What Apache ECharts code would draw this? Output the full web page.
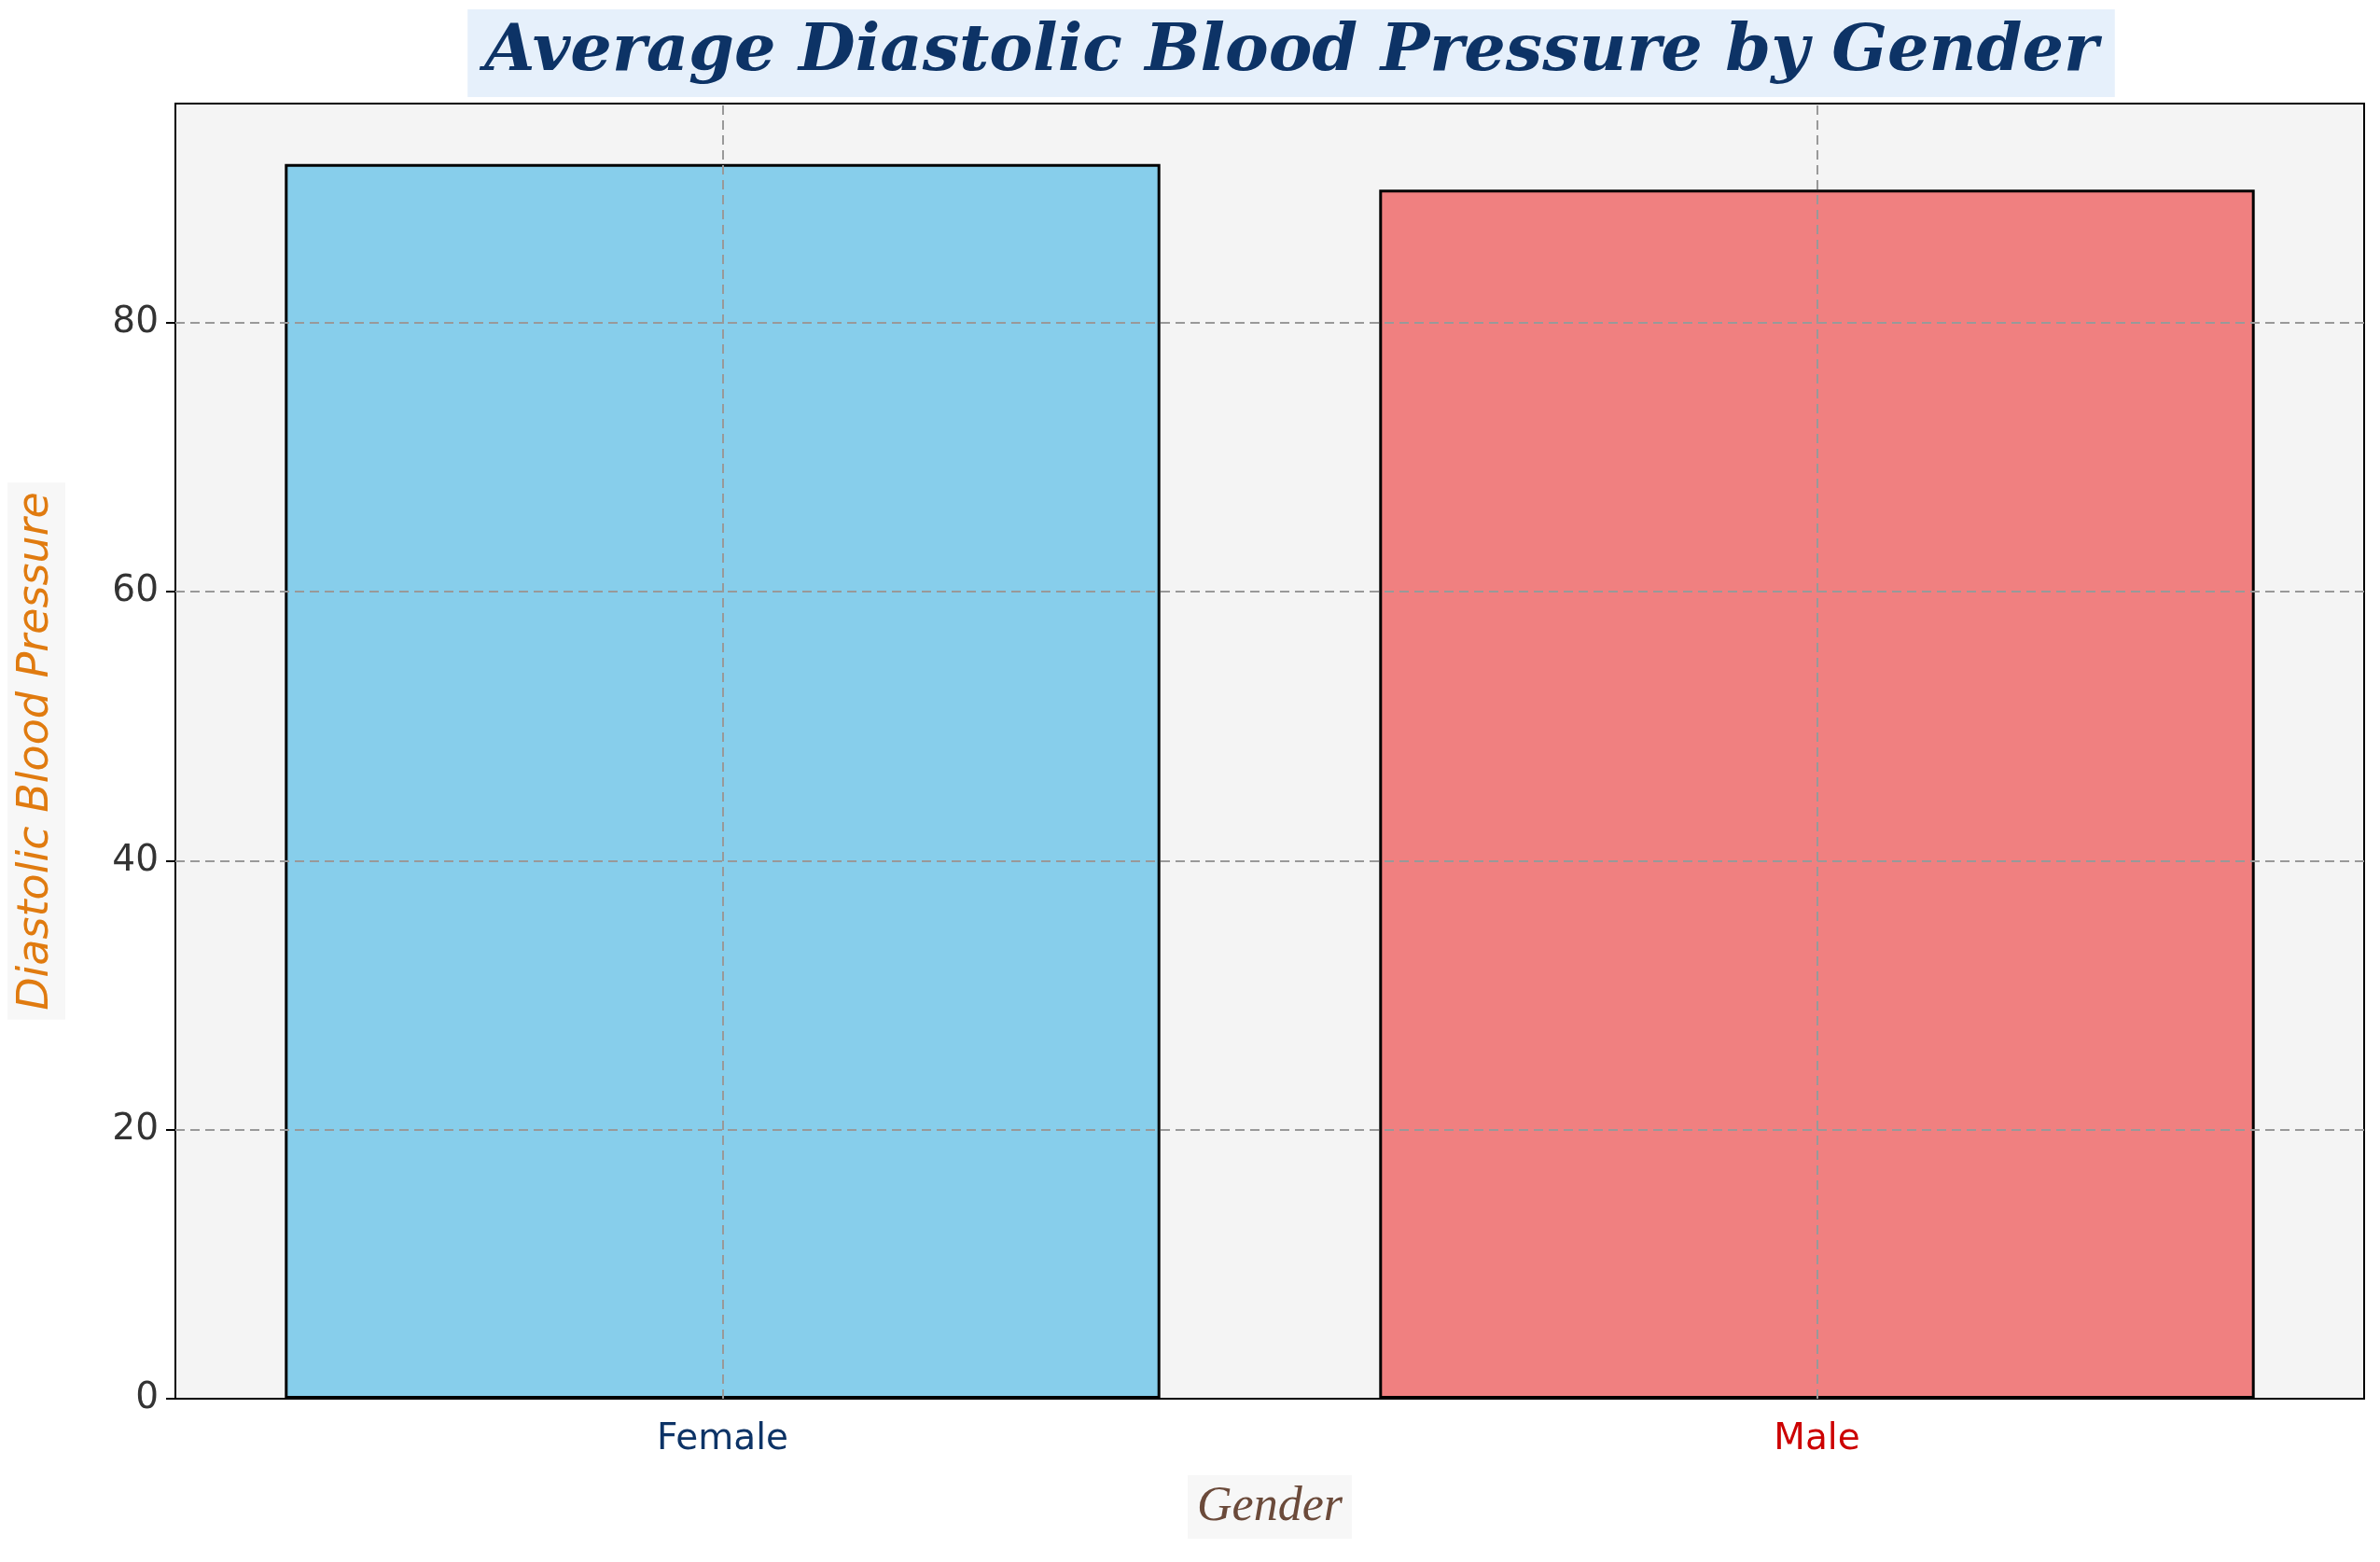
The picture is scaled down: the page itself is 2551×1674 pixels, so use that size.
<!DOCTYPE html>
<html>
<head>
<meta charset="utf-8">
<script src="https://cdn.jsdelivr.net/npm/echarts@6/dist/echarts.min.js"></script>
<style>html,body{margin:0;padding:0;background:#fff}#c{width:2551px;height:1674px}</style>
</head>
<body>
<div id="c"></div>
<script>
var genders = ['Female', 'Male'];
var diastolic = [91.8, 89.9];
var barColors = ['#87CEEB', '#F08080'];
var labelColors = ['#0d3366', '#cc0000'];
var yTicks = [20, 40, 60, 80];
var yTickLabels = [0, 20, 40, 60, 80];

var chart = echarts.init(document.getElementById('c'));
var dash = { color: '#999', type: [10, 6], width: 2 };
var gridLines = yTicks.map(function (v) { return { yAxis: v }; })
  .concat(genders.map(function (g) { return { xAxis: g }; }));

chart.setOption({
  backgroundColor: '#ffffff',
  title: {
    text: 'Average Diastolic Blood Pressure by Gender',
    left: 1366, textAlign: 'center', top: 10,
    backgroundColor: '#e6f0fb', padding: [12, 18],
    textStyle: { fontFamily: 'DejaVu Serif', fontStyle: 'italic', fontWeight: 'bold', fontSize: 70, color: '#0d3366' }
  },
  grid: {
    left: 187, right: 17, top: 111, bottom: 175,
    show: true, backgroundColor: '#f4f4f4', borderColor: '#000', borderWidth: 2
  },
  xAxis: {
    type: 'category', data: genders,
    name: 'Gender', nameLocation: 'middle', nameGap: 82,
    nameTextStyle: { fontFamily: 'Liberation Serif', fontStyle: 'italic', fontSize: 52, color: '#6b4a3a', backgroundColor: '#f7f7f7', padding: [8, 10] },
    axisLine: { lineStyle: { color: '#000', width: 2 } },
    axisTick: { alignWithLabel: true, length: 10, lineStyle: { color: '#000', width: 2 } },
    axisLabel: {
      fontSize: 39, fontFamily: 'DejaVu Sans', margin: 24,
      color: function (v, i) { return labelColors[i]; }
    },
    splitLine: { show: false }
  },
  yAxis: {
    type: 'value', min: 0, max: 96.3,
    name: 'Diastolic Blood Pressure', nameLocation: 'middle', nameGap: 118,
    nameTextStyle: { fontFamily: 'DejaVu Sans', fontStyle: 'italic', fontSize: 46, color: '#e07b10', backgroundColor: '#f7f7f7', padding: [8, 10] },
    axisLine: { show: true, lineStyle: { color: '#000', width: 2 } },
    axisTick: { show: true, length: 10, customValues: yTickLabels, lineStyle: { color: '#000', width: 2 } },
    axisLabel: {
      fontSize: 39, fontFamily: 'DejaVu Sans', color: '#333', margin: 18,
      customValues: yTickLabels
    },
    splitLine: { show: false }
  },
  series: [{
    type: 'bar', barWidth: '80%',
    data: diastolic.map(function (v, i) {
      return { value: v, itemStyle: { color: barColors[i] } };
    }),
    itemStyle: { borderColor: '#000', borderWidth: 3 },
    markLine: {
      silent: true, symbol: 'none', label: { show: false },
      lineStyle: dash, data: gridLines
    }
  }]
});
</script>
</body>
</html>
